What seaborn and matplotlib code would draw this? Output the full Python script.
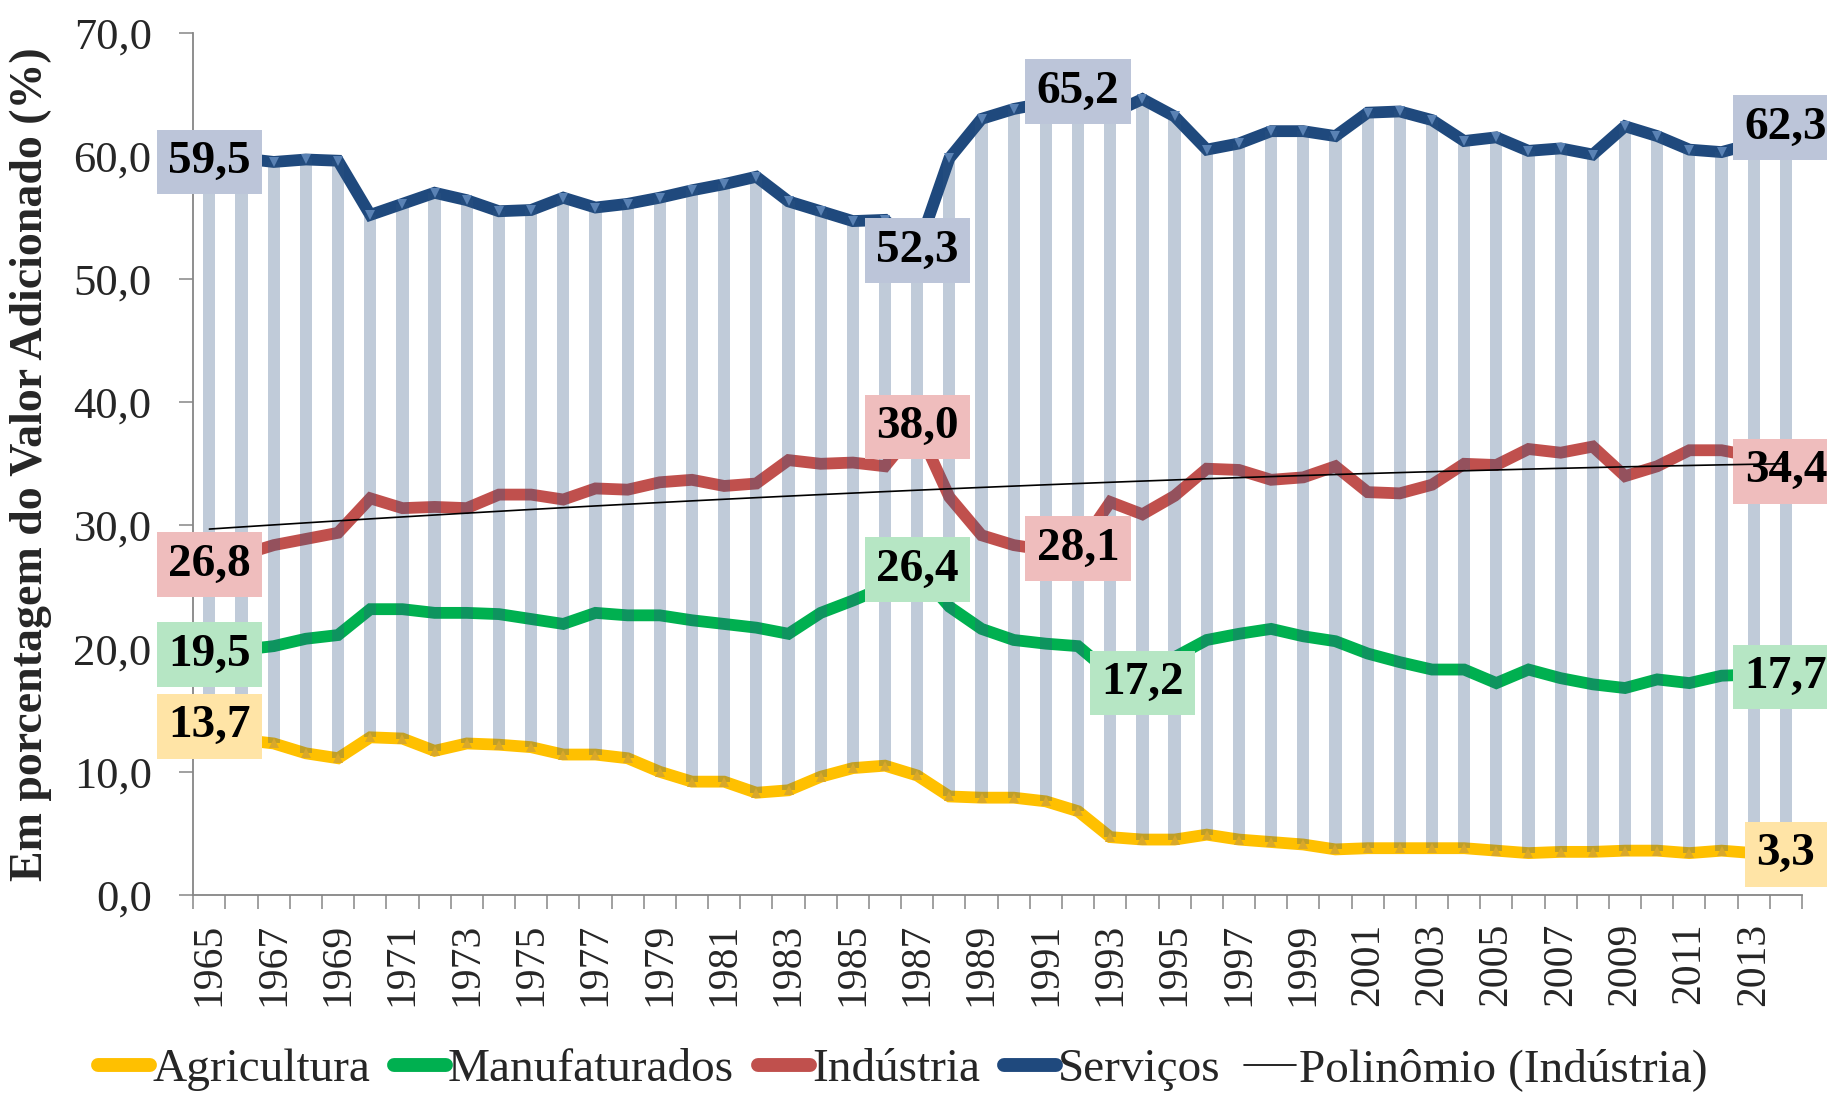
import matplotlib
matplotlib.use('Agg')
import matplotlib.pyplot as plt
from matplotlib.lines import Line2D
from matplotlib.ticker import FuncFormatter, MultipleLocator
import seaborn as sns
import pandas as pd
import numpy as np

# dados (% do valor adicionado)
anos = list(range(1965, 2015))

agricultura = [13.7, 12.6, 12.3, 11.5, 11.1, 12.8, 12.7, 11.7, 12.3, 12.2,
               12.0, 11.4, 11.4, 11.1, 10.0, 9.2, 9.2, 8.3, 8.5, 9.6,
               10.3, 10.5, 9.7, 8.0, 7.9, 7.9, 7.6, 6.8, 4.7, 4.5,
               4.5, 4.9, 4.5, 4.3, 4.1, 3.7, 3.8, 3.8, 3.8, 3.8,
               3.6, 3.4, 3.5, 3.5, 3.6, 3.6, 3.4, 3.6, 3.4, 3.3]

manufaturados = [19.5, 19.9, 20.2, 20.8, 21.1, 23.2, 23.2, 22.9, 22.9, 22.8,
                 22.4, 22.0, 22.9, 22.7, 22.7, 22.3, 22.0, 21.7, 21.2, 22.9,
                 23.9, 25.0, 26.4, 23.4, 21.6, 20.7, 20.4, 20.2, 18.0, 17.2,
                 19.3, 20.7, 21.2, 21.6, 21.0, 20.6, 19.6, 18.9, 18.3, 18.3,
                 17.2, 18.3, 17.6, 17.1, 16.8, 17.5, 17.2, 17.8, 17.9, 17.7]

industria = [26.8, 27.6, 28.4, 28.9, 29.4, 32.2, 31.4, 31.5, 31.4, 32.5,
             32.5, 32.1, 33.0, 32.9, 33.5, 33.7, 33.2, 33.4, 35.3, 35.0,
             35.1, 34.8, 38.0, 32.3, 29.2, 28.4, 28.0, 28.1, 31.9, 30.9,
             32.4, 34.6, 34.5, 33.7, 33.9, 34.8, 32.7, 32.6, 33.3, 35.0,
             34.9, 36.2, 35.9, 36.4, 34.0, 34.8, 36.1, 36.1, 35.6, 34.4]

servicos = [59.5, 59.8, 59.5, 59.7, 59.6, 55.2, 56.1, 57.0, 56.4, 55.5,
            55.6, 56.6, 55.8, 56.1, 56.6, 57.2, 57.7, 58.3, 56.3, 55.5,
            54.7, 54.8, 52.3, 59.8, 63.0, 63.8, 64.3, 65.2, 63.4, 64.6,
            63.2, 60.5, 61.0, 62.0, 62.0, 61.6, 63.5, 63.6, 62.9, 61.2,
            61.5, 60.4, 60.6, 60.1, 62.4, 61.6, 60.5, 60.3, 61.0, 62.3]

# anos com rotulo de dados
rot_agri = [1965, 2014]
rot_manuf = [1965, 1987, 1994, 2014]
rot_ind = [1965, 1987, 1992, 2014]
rot_serv = [1965, 1987, 1992, 2014]

nomes = ['Agricultura', 'Manufaturados', 'Indústria', 'Serviços']
cores = ['#FFC000', '#00B050', '#C0504D', '#1F497D']
caixas = ['#FFE4A6', '#B6E6C4', '#EFBDBD', '#BCC5D9']

df = pd.DataFrame({'ano': anos, 'Agricultura': agricultura,
                   'Manufaturados': manufaturados, 'Indústria': industria,
                   'Serviços': servicos})

# tendencia polinomial (ordem 2) da industria
coef = np.polyfit(df['ano'] - 1965, df['Indústria'], 2)
df['tendencia'] = np.polyval(coef, df['ano'] - 1965)

sns.set_theme(style='white')
plt.rcParams['font.family'] = ['Liberation Serif', 'DejaVu Serif']

fig = plt.figure(figsize=(18.27, 10.94), dpi=100)
ax = fig.add_axes([0.1058, 0.1819, 0.8805, 0.7883])

# linhas
for nome, cor in zip(nomes, cores):
    sns.lineplot(data=df, x='ano', y=nome, color=cor, linewidth=8.5, ax=ax,
                 zorder=3, solid_joinstyle='miter')

sns.lineplot(data=df, x='ano', y='Serviços', color='#5A82B4', linewidth=0,
             marker='v', markersize=7, markeredgewidth=0, ax=ax, zorder=5)
sns.lineplot(data=df, x='ano', y='Agricultura', color='#D9A82A', linewidth=0,
             marker='^', markersize=7, markeredgewidth=0, ax=ax, zorder=5)

# linhas de maximo/minimo
ax.bar(df['ano'], df['Serviços'] - df['Agricultura'], bottom=df['Agricultura'],
       width=0.38, color='#2F5583', alpha=0.3, linewidth=0, zorder=4)

# rotulos
def rotular(serie, anos_rot, cor_caixa):
    for a in anos_rot:
        v = df.loc[df['ano'] == a, serie].iloc[0]
        ax.text(a, v, f'{v:.1f}'.replace('.', ','), ha='center', va='center',
                fontsize=34, fontweight='bold', color='black', zorder=8,
                clip_on=False,
                bbox=dict(boxstyle='square,pad=0.24', fc=cor_caixa, ec='none'))

rotular('Agricultura', rot_agri, caixas[0])
rotular('Manufaturados', rot_manuf, caixas[1])
rotular('Indústria', rot_ind, caixas[2])
rotular('Serviços', rot_serv, caixas[3])

sns.lineplot(data=df, x='ano', y='tendencia', color='black', linewidth=1.2,
             ax=ax, zorder=10)

# eixos
ax.set_xlim(1964.5, 2014.5)
ax.set_ylim(0, 70)
ax.yaxis.set_major_locator(MultipleLocator(10))
ax.yaxis.set_major_formatter(FuncFormatter(lambda v, p: f'{v:.1f}'.replace('.', ',')))
ax.set_xticks(anos[::2])
ax.set_xticklabels([str(a) for a in anos[::2]], rotation=90)
ax.set_xticks(np.arange(1964.5, 2015, 1), minor=True)
ax.tick_params(axis='x', which='major', length=0, pad=20, labelsize=30)
ax.tick_params(axis='x', which='minor', length=10, width=1.1, color='#868686',
               direction='out', bottom=True)
ax.tick_params(axis='y', which='major', length=10, width=1.1, color='#868686',
               direction='out', left=True, pad=20, labelsize=32)

for s in ['top', 'right']:
    ax.spines[s].set_visible(False)
for s in ['left', 'bottom']:
    ax.spines[s].set_color('#868686')
    ax.spines[s].set_linewidth(1.3)

ax.set_xlabel('')
ax.set_ylabel('Em porcentagem do Valor Adicionado (%)', fontsize=33,
              fontweight='bold')
ax.yaxis.set_label_coords(-0.088, 0.5)

# legenda
handles = [Line2D([0], [0], color=c, lw=10, solid_capstyle='round') for c in cores]
handles.append(Line2D([0], [0], color='black', lw=1.2))
fig.legend(handles, nomes + ['Polinômio (Indústria)'], loc='center',
           bbox_to_anchor=(0.494, 0.022), ncol=5, frameon=False, fontsize=34,
           handlelength=1.1, handletextpad=0.05, columnspacing=0.5)

fig.savefig('out.png', dpi=100)
